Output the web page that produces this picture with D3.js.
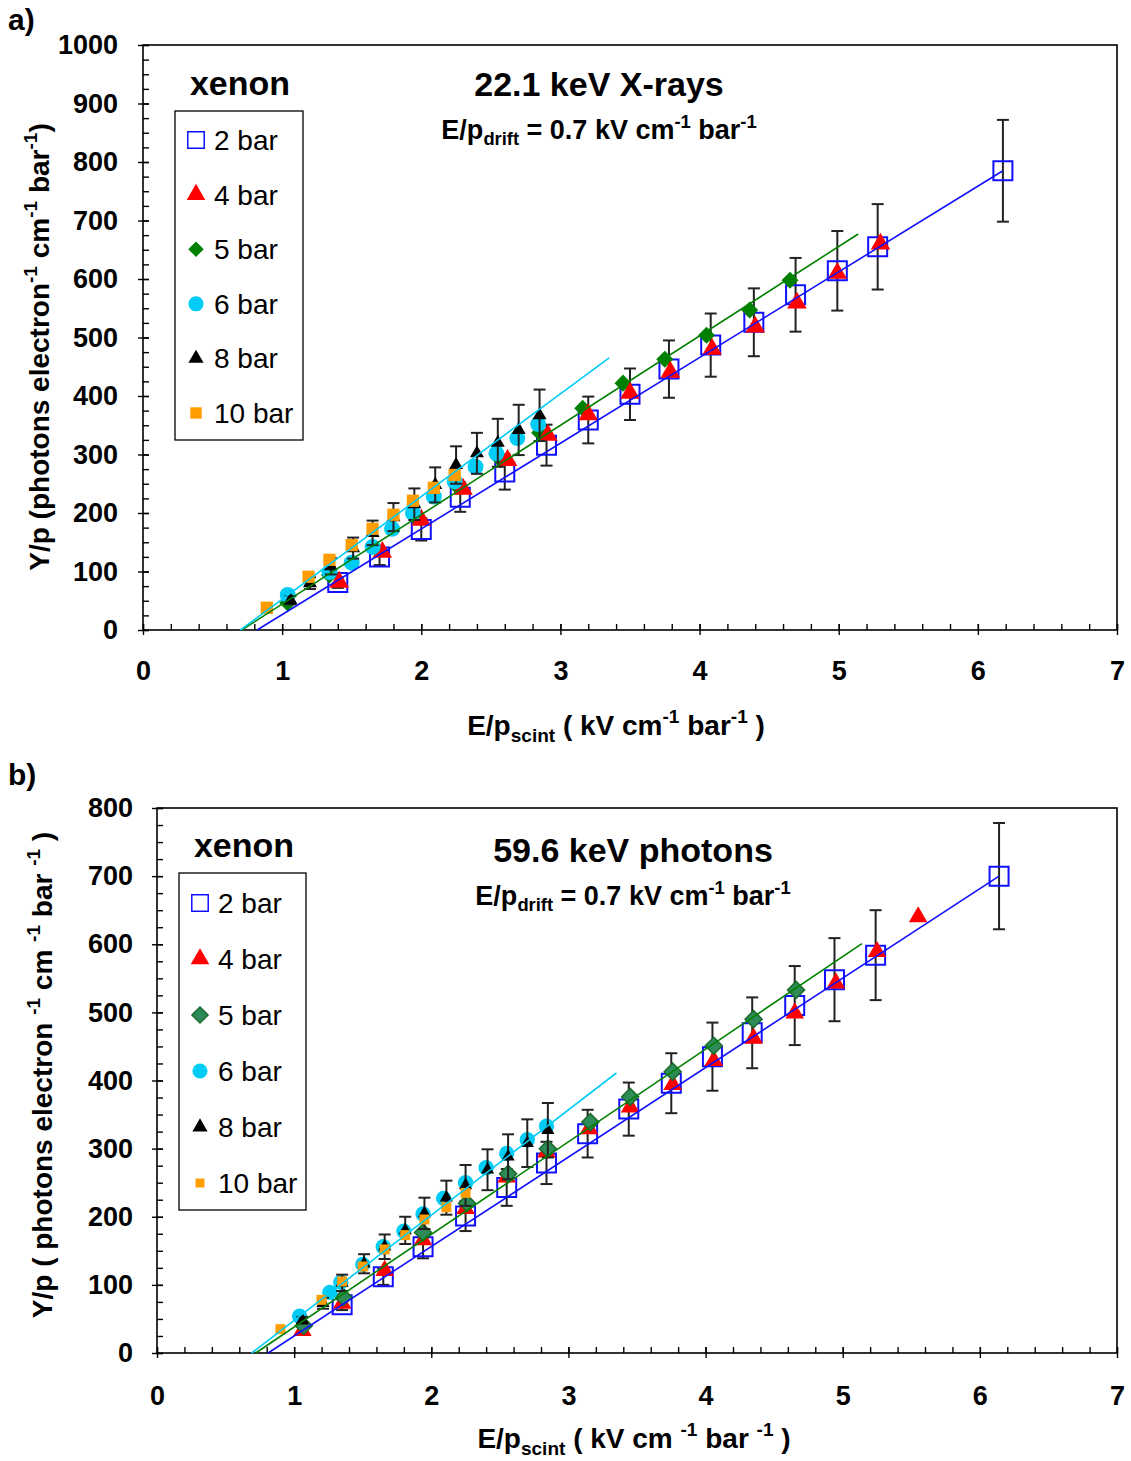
<!DOCTYPE html>
<html>
<head>
<meta charset="utf-8">
<script src="https://cdn.jsdelivr.net/npm/d3@7"></script>
<style>
  body { margin: 0; background: #fff; }
  svg { display: block; }
  text { font-family: "Liberation Sans", Arial, sans-serif; }
</style>
</head>
<body>
<svg id="chart" width="1131" height="1461"></svg>
<script>
// ---- data ----
const barLabels = ["2 bar", "4 bar", "5 bar", "6 bar", "8 bar", "10 bar"];
const xTicks = [0, 1, 2, 3, 4, 5, 6, 7];
const yTicksA = [0, 100, 200, 300, 400, 500, 600, 700, 800, 900, 1000];
const yTicksB = [0, 100, 200, 300, 400, 500, 600, 700, 800];

// a) 22.1 keV X-rays
const a2X = [1.40, 1.70, 2.00, 2.28, 2.60, 2.90, 3.20, 3.50, 3.78, 4.08, 4.39, 4.69, 4.99, 5.28, 6.18];
const a2Y = [81, 125, 172, 227, 270, 316, 359, 403, 446, 487, 526, 573, 614, 655, 785];
const a2Err = [9, 14, 19, 25, 30, 35, 40, 44, 49, 54, 58, 63, 68, 73, 87];
const a4X = [1.41, 1.72, 2.00, 2.30, 2.62, 2.91, 3.20, 3.50, 3.79, 4.09, 4.40, 4.70, 4.99, 5.30];
const a4Y = [82, 133, 188, 241, 290, 333, 368, 405, 441, 480, 518, 559, 610, 660];
const a5X = [1.04, 1.34, 1.95, 2.26, 2.57, 2.85, 3.16, 3.45, 3.75, 4.05, 4.36, 4.65];
const a5Y = [46, 94, 195, 245, 291, 337, 379, 422, 463, 504, 547, 598];
const a6X = [1.04, 1.34, 1.50, 1.65, 1.79, 1.94, 2.09, 2.24, 2.39, 2.54, 2.69, 2.84];
const a6Y = [60, 99, 115, 142, 173, 200, 228, 254, 279, 302, 328, 352];
const a8X = [1.06, 1.20, 1.35, 1.51, 1.65, 1.80, 1.95, 2.10, 2.25, 2.40, 2.55, 2.70, 2.85];
const a8Y = [51, 80, 109, 140, 166, 193, 215, 248, 282, 302, 320, 342, 367];
const a8Err = [7, 10, 14, 18, 21, 24, 27, 30, 32, 35, 41, 43, 44];
const a10X = [0.89, 1.19, 1.34, 1.50, 1.65, 1.80, 1.94, 2.09, 2.24];
const a10Y = [38, 91, 120, 145, 173, 197, 221, 243, 265];
// linear fits (2, 5, 6 bar): start and end points
const aFitX = [[0.82, 6.18], [0.71, 5.14], [0.70, 3.35]];
const aFitY = [[0, 785], [0, 677], [0, 465]];

// b) 59.6 keV photons
const b2X = [1.35, 1.65, 1.94, 2.25, 2.55, 2.84, 3.14, 3.44, 3.75, 4.05, 4.34, 4.65, 4.94, 5.24, 6.14];
const b2Y = [71, 112, 156, 201, 243, 279, 322, 358, 396, 435, 470, 510, 548, 584, 700];
const b2Err = [8, 12, 17, 22, 27, 31, 35, 39, 44, 50, 52, 58, 61, 66, 78];
const b4X = [1.06, 1.35, 1.66, 1.94, 2.25, 2.55, 2.84, 3.15, 3.45, 3.76, 4.06, 4.35, 4.65, 4.95, 5.25, 5.55];
const b4Y = [33, 73, 121, 166, 212, 258, 295, 329, 361, 394, 429, 462, 499, 543, 589, 640];
const b5X = [1.07, 1.36, 1.94, 2.26, 2.56, 2.85, 3.16, 3.45, 3.76, 4.06, 4.35, 4.66];
const b5Y = [40, 82, 177, 220, 263, 300, 339, 376, 413, 451, 490, 533];
const b6X = [1.04, 1.26, 1.34, 1.50, 1.65, 1.80, 1.94, 2.09, 2.25, 2.40, 2.55, 2.70, 2.84];
const b6Y = [54, 89, 104, 130, 156, 179, 204, 227, 250, 272, 293, 313, 333];
const b8X = [1.06, 1.21, 1.35, 1.51, 1.66, 1.81, 1.95, 2.11, 2.25, 2.41, 2.56, 2.70, 2.85];
const b8Y = [48, 73, 103, 131, 156, 180, 205, 228, 246, 269, 288, 308, 327];
const b8Err = [5, 8, 12, 14, 18, 20, 23, 25, 30, 30, 33, 35, 40];
const b10X = [0.90, 1.20, 1.35, 1.50, 1.66, 1.81, 1.95, 2.11, 2.25];
const b10Y = [35, 78, 105, 127, 152, 173, 196, 214, 235];
const bFitX = [[0.81, 6.14], [0.72, 5.14], [0.69, 3.35]];
const bFitY = [[0, 700], [0, 601], [0, 411]];

const svg = d3.select("#chart");
const zip = (xs, ys, es) => xs.map((v, i) => ({ x: v, y: ys[i], e: es ? es[i] : 0 }));

function drawMarkers(g, x, y, pts, s) {
  const sym = d3.symbol().type(s.type).size(s.size);
  g.append("g").selectAll("path").data(pts).join("path")
    .attr("d", sym)
    .attr("transform", d => `translate(${x(d.x)},${y(d.y)}) rotate(${s.rot || 0})`)
    .attr("fill", s.fill)
    .attr("stroke", s.stroke || "none")
    .attr("stroke-width", s.sw || 0);
}

function drawErr(g, x, y, pts) {
  const eg = g.append("g").attr("stroke", "#222").attr("stroke-width", 2);
  eg.selectAll("line.v").data(pts).join("line").attr("class", "v")
    .attr("x1", d => x(d.x)).attr("x2", d => x(d.x))
    .attr("y1", d => y(d.y - d.e)).attr("y2", d => y(d.y + d.e));
  [1, -1].forEach(sg => {
    eg.selectAll("line.c" + sg).data(pts).join("line").attr("class", "c" + sg)
      .attr("x1", d => x(d.x) - 6).attr("x2", d => x(d.x) + 6)
      .attr("y1", d => y(d.y + sg * d.e)).attr("y2", d => y(d.y + sg * d.e));
  });
}

function richText(g, xPos, yPos, size, parts, anchor, rotate) {
  const t = g.append("text")
    .attr("x", xPos).attr("y", yPos)
    .attr("font-size", size).attr("font-weight", "bold")
    .attr("text-anchor", anchor || "middle");
  if (rotate) t.attr("transform", `rotate(-90,${xPos},${yPos})`);
  let cur = 0; // current baseline offset in px
  parts.forEach(([txt, k]) => {
    const fs = k === "n" ? size : size * 0.68;
    const target = k === "sup" ? -0.42 * size : k === "sub" ? 0.24 * size : 0;
    t.append("tspan").attr("dy", target - cur).attr("font-size", fs).text(txt);
    cur = target;
  });
  return t;
}

function drawPanel(p) {
  const g = svg.append("g");
  const x = d3.scaleLinear().domain([0, 7]).range([p.left, p.right]);
  const y = d3.scaleLinear().domain([0, p.yMax]).range([p.bottom, p.top]);

  // frame
  g.append("rect")
    .attr("x", p.left).attr("y", p.top)
    .attr("width", p.right - p.left).attr("height", p.bottom - p.top)
    .attr("fill", "none").attr("stroke", "#000").attr("stroke-width", 1.6);

  // major ticks cross the axis, minor ticks point inward
  const yAx = g.append("g").attr("transform", `translate(${p.left},0)`)
    .call(d3.axisLeft(y).tickValues(p.yTicks).tickSize(5).tickPadding(p.yPad).tickFormat(d3.format("d")));
  g.append("g").attr("transform", `translate(${p.left},0)`)
    .call(d3.axisRight(y).tickValues(p.yTicks).tickSize(6).tickFormat(""));
  g.append("g").attr("transform", `translate(${p.left},0)`)
    .call(d3.axisRight(y).tickValues(d3.range(0, p.yMax + 1, 25)).tickSize(6).tickFormat(""));
  const xAx = g.append("g").attr("transform", `translate(0,${p.bottom})`)
    .call(d3.axisBottom(x).tickValues(xTicks).tickSize(5).tickPadding(p.xPad).tickFormat(d3.format("d")));
  g.append("g").attr("transform", `translate(0,${p.bottom})`)
    .call(d3.axisTop(x).tickValues(xTicks).tickSize(6).tickFormat(""));
  g.append("g").attr("transform", `translate(0,${p.bottom})`)
    .call(d3.axisTop(x).tickValues(d3.range(0, 7.001, 0.2)).tickSize(6).tickFormat(""));
  g.selectAll(".domain").remove();
  g.selectAll(".tick line").attr("stroke", "#000").attr("stroke-width", 1.4);
  [yAx, xAx].forEach(a => a.selectAll("text")
    .attr("font-family", '"Liberation Sans", Arial, sans-serif')
    .attr("font-size", 27).attr("font-weight", "bold").attr("fill", "#000"));

  // markers, error bars, fit lines
  const S = p.series;
  drawErr(g, x, y, S.s2);
  S.order.forEach(k => {
    if (k === "s8") drawErr(g, x, y, S.s8);
    drawMarkers(g, x, y, S[k], p.styles[k]);
  });
  const line = d3.line().x(d => x(d[0])).y(d => y(d[1]));
  p.fitX.forEach((fx, i) => {
    g.append("path")
      .attr("d", line([[fx[0], p.fitY[i][0]], [fx[1], p.fitY[i][1]]]))
      .attr("stroke", p.fitColors[i]).attr("stroke-width", 1.6).attr("fill", "none");
  });

  // legend
  const L = p.legend;
  g.append("text").attr("x", L.x + 65).attr("y", L.y - 16)
    .attr("text-anchor", "middle").attr("font-size", 34).attr("font-weight", "bold").text("xenon");
  g.append("rect").attr("x", L.x).attr("y", L.y).attr("width", L.w).attr("height", L.h)
    .attr("fill", "#fff").attr("stroke", "#000").attr("stroke-width", 1.3);
  const keys = ["s2", "s4", "s5", "s6", "s8", "s10"];
  barLabels.forEach((lab, i) => {
    const cy = L.y + L.first + i * L.step;
    const st = Object.assign({}, p.styles[keys[i]], { size: p.legendSizes[i] });
    const sym = d3.symbol().type(st.type).size(st.size);
    g.append("path").attr("d", sym)
      .attr("transform", `translate(${L.x + 21},${cy}) rotate(${st.rot || 0})`)
      .attr("fill", st.fill).attr("stroke", st.stroke || "none").attr("stroke-width", st.sw ? Math.min(st.sw, 1.5) : 0);
    g.append("text").attr("x", L.x + 39).attr("y", cy + 10)
      .attr("font-size", 28).text(lab);
  });

  // titles
  g.append("text").attr("x", p.titleX).attr("y", p.titleY)
    .attr("text-anchor", "middle").attr("font-size", 34).attr("font-weight", "bold").text(p.title);
  richText(g, p.titleX, p.titleY + 43, 27,
    [["E/p", "n"], ["drift", "sub"], [" = 0.7 kV cm", "n"], ["-1", "sup"], [" bar", "n"], ["-1", "sup"]]);
  richText(g, p.xLabX, p.xLabY, 28, p.xLabParts);
  richText(g, p.yLabX, p.yLabY, p.yLabSize, p.yLabParts, "middle", true);
  g.append("text").attr("x", 8).attr("y", p.tagY).attr("font-size", 30)
    .attr("font-weight", "bold").text(p.tag);
}

const stylesA = {
  s2: { type: d3.symbolSquare, size: 361, fill: "none", stroke: "#1010ff", sw: 2 },
  s4: { type: d3.symbolTriangle, size: 165, fill: "#ff0000" },
  s5: { type: d3.symbolSquare, size: 145, fill: "#008000", rot: 45 },
  s6: { type: d3.symbolCircle, size: 200, fill: "#00ccf5" },
  s8: { type: d3.symbolTriangle, size: 85, fill: "#000" },
  s10: { type: d3.symbolSquare, size: 150, fill: "#ff9c00" }
};
const stylesB = Object.assign({}, stylesA, {
  s4: { type: d3.symbolTriangle, size: 150, fill: "#ff0000" },
  s5: { type: d3.symbolSquare, size: 145, fill: "#2e8b57", stroke: "#1b6b2a", sw: 1.5, rot: 45 },
  s6: { type: d3.symbolCircle, size: 185, fill: "#00ccf5" },
  s8: { type: d3.symbolTriangle, size: 75, fill: "#000" },
  s10: { type: d3.symbolSquare, size: 100, fill: "#ff9c00" }
});

drawPanel({
  left: 143, right: 1117, top: 45, bottom: 630, yMax: 1000, yTicks: yTicksA,
  yPad: 20, xPad: 26,
  series: {
    s2: zip(a2X, a2Y, a2Err), s4: zip(a4X, a4Y), s5: zip(a5X, a5Y),
    s6: zip(a6X, a6Y), s8: zip(a8X, a8Y, a8Err), s10: zip(a10X, a10Y),
    order: ["s2", "s5", "s4", "s6", "s8", "s10"]
  },
  styles: stylesA,
  legendSizes: [270, 150, 120, 180, 100, 130],
  fitX: aFitX, fitY: aFitY, fitColors: ["#1010ff", "#008000", "#00ccf5"],
  legend: { x: 175, y: 111, w: 128, h: 329, first: 29, step: 54.6 },
  title: "22.1 keV X-rays", titleX: 599, titleY: 96,
  xLabX: 616, xLabY: 735,
  xLabParts: [["E/p", "n"], ["scint", "sub"], [" ( kV cm", "n"], ["-1", "sup"], [" bar", "n"], ["-1", "sup"], [" )", "n"]],
  yLabX: 49, yLabY: 347, yLabSize: 28,
  yLabParts: [["Y/p (photons electron", "n"], ["-1", "sup"], [" cm", "n"], ["-1", "sup"], [" bar", "n"], ["-1", "sup"], [")", "n"]],
  tag: "a)", tagY: 30
});

drawPanel({
  left: 157, right: 1117, top: 808, bottom: 1353, yMax: 800, yTicks: yTicksB,
  yPad: 19, xPad: 28,
  series: {
    s2: zip(b2X, b2Y, b2Err), s4: zip(b4X, b4Y), s5: zip(b5X, b5Y),
    s6: zip(b6X, b6Y), s8: zip(b8X, b8Y, b8Err), s10: zip(b10X, b10Y),
    order: ["s2", "s4", "s5", "s6", "s8", "s10"]
  },
  styles: stylesB,
  legendSizes: [270, 150, 130, 180, 100, 80],
  fitX: bFitX, fitY: bFitY, fitColors: ["#1010ff", "#008000", "#00ccf5"],
  legend: { x: 179, y: 873, w: 127, h: 337, first: 30, step: 56 },
  title: "59.6 keV photons", titleX: 633, titleY: 862,
  xLabX: 634, xLabY: 1448,
  xLabParts: [["E/p", "n"], ["scint", "sub"], [" ( kV cm ", "n"], ["-1", "sup"], [" bar ", "n"], ["-1", "sup"], [" )", "n"]],
  yLabX: 52, yLabY: 1075, yLabSize: 28,
  yLabParts: [["Y/p ( photons electron ", "n"], ["-1", "sup"], [" cm ", "n"], ["-1", "sup"], ["  bar ", "n"], ["-1", "sup"], [" )", "n"]],
  tag: "b)", tagY: 785
});
</script>
</body>
</html>
